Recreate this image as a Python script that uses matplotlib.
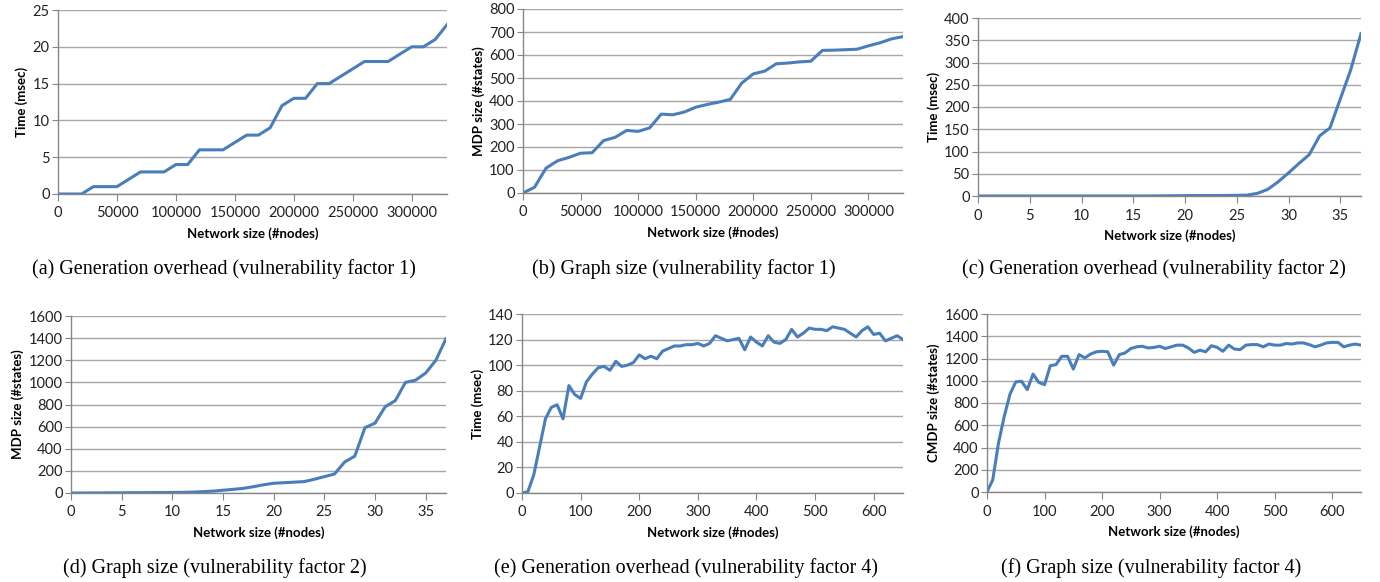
import matplotlib
matplotlib.use("Agg")
import matplotlib.pyplot as plt
import numpy as np

plt.rcParams.update({
    'font.family': ['Lato', 'DejaVu Sans'],
    'font.size': 10.5,
})

W, H = 1380, 582
line_color = '#4a7ebb'
grid_color = '#a6a6a6'

# --- data ---
x_a = np.arange(0, 330001, 10000)
time_vf1 = [0, 0, 0, 1, 1, 1, 2, 3, 3, 3, 4, 4, 6, 6, 6, 7, 8, 8, 9, 12,
            13, 13, 15, 15, 16, 17, 18, 18, 18, 19, 20, 20, 21, 23]
mdp_vf1 = [0, 25, 108, 140, 155, 173, 175, 228, 242, 272, 268, 283, 343, 340,
           352, 373, 385, 395, 407, 478, 518, 530, 562, 565, 570, 573, 620,
           621, 623, 625, 640, 653, 670, 680]

x_c = np.arange(0, 38)
time_vf2 = [0, 0, 0, 0, 0, 0, 0, 0, 0, 0, 0, 0, 0, 0, 0, 0, 0, 0.2, 0.4, 0.6,
            0.8, 1, 1, 1, 1.2, 1.5, 2, 6, 15, 32, 52, 73, 93, 135, 153, 218,
            283, 365]
mdp_vf2 = [0, 0, 1, 1, 2, 2, 3, 3, 4, 4, 5, 6, 8, 12, 17, 25, 33, 42, 57, 74,
           88, 93, 98, 103, 124, 148, 172, 280, 333, 590, 632, 780, 835, 1000,
           1020, 1085, 1200, 1395]

x_e = np.arange(0, 651, 10)
time_vf4 = [0, 1, 14, 36, 58, 67, 69, 58, 84, 77, 74, 87, 93, 98, 99, 96, 103,
            99, 100, 102, 108, 105, 107, 105, 111, 113, 115, 115, 116, 116,
            117, 115, 117, 123, 121, 119, 120, 121, 112, 122, 118, 115, 123,
            118, 117, 120, 128, 122, 125, 129, 128, 128, 127, 130, 129, 128,
            125, 122, 127, 130, 124, 125, 119, 121, 123, 120]
cmdp_vf4 = [0, 110, 440, 680, 880, 990, 995, 920, 1060, 985, 965, 1135, 1145,
            1220, 1220, 1105, 1235, 1205, 1240, 1260, 1265, 1260, 1140, 1235,
            1250, 1290, 1305, 1310, 1295, 1300, 1310, 1290, 1305, 1320, 1320,
            1295, 1255, 1275, 1260, 1315, 1300, 1265, 1320, 1285, 1280, 1320,
            1325, 1325, 1305, 1330, 1320, 1320, 1335, 1330, 1340, 1340, 1325,
            1305, 1320, 1340, 1345, 1345, 1305, 1320, 1330, 1320]

xlabel = 'Network size (#nodes)'

panels = [
    # x, y, xmax, xstep, ymax, ystep, ylabel, caption, pixel box (l, r, top, bottom), caption centre
    (x_a, time_vf1, 330000, 50000, 25, 5, 'Time (msec)',
     '(a) Generation overhead (vulnerability factor 1)', (58, 447, 10, 194), 224, 269),
    (x_a, mdp_vf1, 330000, 50000, 800, 100, 'MDP size (#states)',
     '(b) Graph size (vulnerability factor 1)', (523, 903, 9, 193), 684, 269),
    (x_c, time_vf2, 37, 5, 400, 50, 'Time (msec)',
     '(c) Generation overhead (vulnerability factor 2)', (978, 1361, 18, 196), 1154, 269),
    (x_c, mdp_vf2, 37, 5, 1600, 200, 'MDP size (#states)',
     '(d) Graph size (vulnerability factor 2)', (71, 446, 316, 493), 215, 568),
    (x_e, time_vf4, 650, 100, 140, 20, 'Time (msec)',
     '(e) Generation overhead (vulnerability factor 4)', (522, 903, 314, 493), 686, 568),
    (x_e, cmdp_vf4, 650, 100, 1600, 200, 'CMDP size (#states)',
     '(f) Graph size (vulnerability factor 4)', (987, 1361, 314, 492), 1151, 568),
]

fig = plt.figure(figsize=(W / 100, H / 100), dpi=100)

for xs, ys, xmax, xstep, ymax, ystep, ylab, cap, box, cx, cy in panels:
    l, r, t, b = box
    ax = fig.add_axes([l / W, 1 - b / H, (r - l) / W, (b - t) / H])
    ax.plot(xs, ys, color=line_color, linewidth=2.2, solid_joinstyle='round')
    ax.set_xlim(0, xmax)
    ax.set_ylim(0, ymax)
    ax.set_xticks(np.arange(0, xmax + 1, xstep))
    ax.set_yticks(np.arange(0, ymax + 1, ystep))
    ax.grid(True, axis='y', color=grid_color, linewidth=1.0)
    ax.set_axisbelow(True)
    for s in ['top', 'right']:
        ax.spines[s].set_visible(False)
    for s in ['left', 'bottom']:
        ax.spines[s].set_color('#868686')
        ax.spines[s].set_linewidth(1.0)
    ax.tick_params(axis='x', direction='out', length=5, color='#868686',
                   labelsize=10.5, pad=4, labelcolor='#222222')
    ax.tick_params(axis='y', direction='out', length=4, color='#868686',
                   labelsize=10.5, pad=2, labelcolor='#222222')
    ax.set_xlabel(xlabel, fontweight='bold', fontsize=9.5, labelpad=5)
    ax.set_ylabel(ylab, fontweight='bold', fontsize=9.5, labelpad=3)
    fig.text(cx / W, 1 - cy / H, cap, ha='center', va='center',
             fontsize=14.5, family=['Liberation Serif', 'DejaVu Serif'])

fig.savefig('out.png', dpi=100)
